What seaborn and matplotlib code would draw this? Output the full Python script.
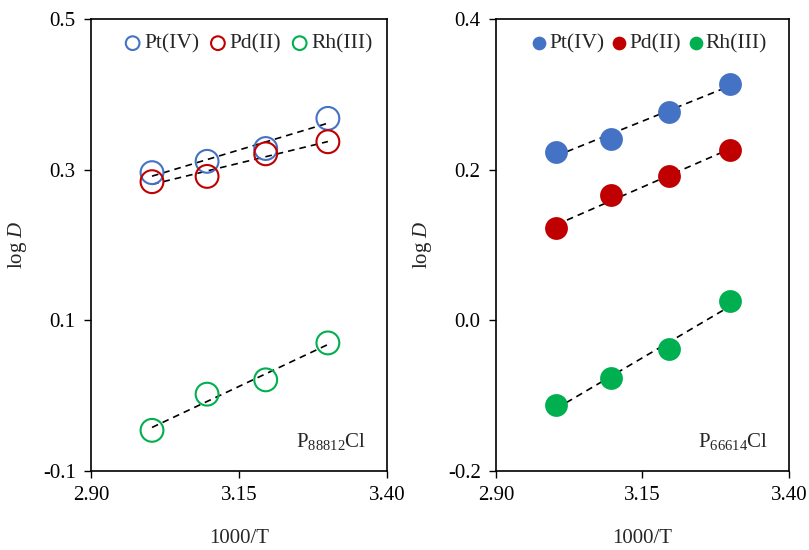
import numpy as np
import pandas as pd
import matplotlib
matplotlib.use("Agg")
import matplotlib.pyplot as plt
import seaborn as sns
from matplotlib.ticker import FormatStrFormatter

sns.set_style("ticks")
plt.rcParams['font.family'] = ['Liberation Serif', 'DejaVu Serif']
plt.rcParams['mathtext.fontset'] = 'custom'
plt.rcParams['mathtext.rm'] = 'Liberation Serif'
plt.rcParams['mathtext.it'] = 'Liberation Serif:italic'
plt.rcParams['axes.unicode_minus'] = False

# Data
inv_T = [3.003, 3.096, 3.195, 3.300]
metals = ["Pt(IV)", "Pd(II)", "Rh(III)"]
colors = ["#4472C4", "#C00000", "#00B050"]

p88812_pt = [0.296, 0.311, 0.328, 0.368]
p88812_pd = [0.284, 0.291, 0.321, 0.337]
p88812_rh = [-0.046, 0.002, 0.021, 0.070]

p66614_pt = [0.223, 0.241, 0.277, 0.314]
p66614_pd = [0.122, 0.166, 0.191, 0.226]
p66614_rh = [-0.113, -0.076, -0.038, 0.025]

left_ticks_x = [2.90, 3.15, 3.40]
left_ticks_y = [-0.1, 0.1, 0.3, 0.5]
right_ticks_y = [-0.2, 0.0, 0.2, 0.4]

fig = plt.figure(figsize=(8.09, 5.5), dpi=100)
ax1 = fig.add_axes([0.1125, 0.1436, 0.366, 0.822])
ax2 = fig.add_axes([0.613, 0.1436, 0.362, 0.822])

panels = [
    (ax1, [p88812_pt, p88812_pd, p88812_rh], False, left_ticks_y, "88812", 0.952, 0.45, 0.15),
    (ax2, [p66614_pt, p66614_pd, p66614_rh], True, right_ticks_y, "66614", 0.925, 0.3, 0.05),
]

for ax, series, filled, yticks, sub, legx, colsp, htp in panels:
    for name, vals, col in zip(metals, series, colors):
        df = pd.DataFrame({"x": inv_T, "y": vals})
        sns.regplot(data=df, x="x", y="y", ax=ax, scatter=False, ci=None,
                    line_kws=dict(color="black", linestyle=(0, (4, 3)), linewidth=1.2))
        if filled:
            sns.scatterplot(data=df, x="x", y="y", ax=ax, s=270, color=col,
                            edgecolor=col, linewidth=0, label=name, zorder=3)
        else:
            sns.scatterplot(data=df, x="x", y="y", ax=ax, s=270, facecolor="none",
                            edgecolor=col, linewidth=1.5, label=name, zorder=3)
    ax.set_xlim(2.90, 3.40)
    ax.set_ylim(yticks[0], yticks[-1])
    ax.set_xticks(left_ticks_x)
    ax.set_yticks(yticks)
    ax.xaxis.set_major_formatter(FormatStrFormatter("%.2f"))
    ax.yaxis.set_major_formatter(FormatStrFormatter("%.1f"))
    ax.tick_params(direction="out", length=5, width=1, labelsize=15, colors="black", pad=6)
    for sp in ax.spines.values():
        sp.set_visible(True)
        sp.set_color("black")
        sp.set_linewidth(1.2)
    ax.set_xlabel("1000/T", fontsize=15, labelpad=17)
    ax.set_ylabel(r"log $\mathit{D}$", fontsize=15, labelpad=10)
    leg = ax.legend(loc="center right", bbox_to_anchor=(legx, 0.945), ncol=3, frameon=False,
                    fontsize=15.5, markerscale=0.6, handlelength=0.8, handletextpad=htp,
                    columnspacing=colsp, borderaxespad=0, borderpad=0)
    ax.text(0.81, 0.065, r"P$_{\mathrm{" + sub + r"}}$Cl", transform=ax.transAxes,
            fontsize=15, ha="center", va="center")

fig.savefig("out.png", dpi=100)
